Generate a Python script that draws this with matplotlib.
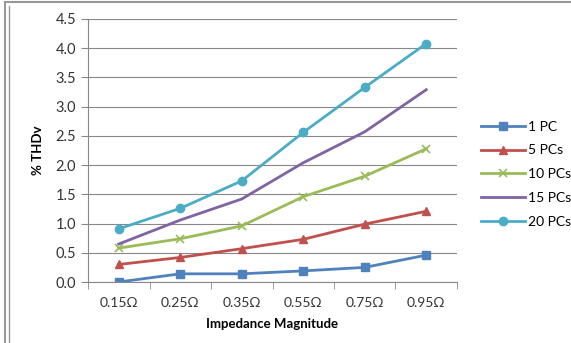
import matplotlib.pyplot as plt
from matplotlib.lines import Line2D
import numpy as np

plt.rcParams['font.family'] = ['Lato', 'DejaVu Sans']

impedance = ['0.15Ω', '0.25Ω', '0.35Ω', '0.55Ω', '0.75Ω', '0.95Ω']
pc1 = [0.00, 0.14, 0.14, 0.19, 0.25, 0.46]
pc5 = [0.30, 0.42, 0.57, 0.73, 0.99, 1.21]
pc10 = [0.58, 0.74, 0.96, 1.46, 1.81, 2.28]
pc15 = [0.65, 1.06, 1.42, 2.04, 2.57, 3.29]
pc20 = [0.91, 1.26, 1.73, 2.56, 3.33, 4.08]

fig = plt.figure(figsize=(5.71, 3.43), dpi=100)
ax = fig.add_axes([88/571, 1-282/343, (457-88)/571, (282-19)/343])

x = np.arange(len(impedance))
ax.plot(x, pc1, color='#4F81BD', lw=2, marker='s', ms=6, label='1 PC')
ax.plot(x, pc5, color='#C0504D', lw=2, marker='^', ms=6, label='5 PCs')
ax.plot(x, pc10, color='#9BBB59', lw=2, marker='x', ms=6, mew=1.2, label='10 PCs')
ax.plot(x, pc15, color='#8064A2', lw=2, label='15 PCs')
ax.plot(x, pc20, color='#4BACC6', lw=2, marker='o', ms=6, label='20 PCs')

ax.set_xlim(-0.5, len(impedance) - 0.5)
ax.set_ylim(0, 4.5)
ax.set_yticks(np.arange(0, 4.51, 0.5))
ax.set_yticklabels([f'{v:.1f}' for v in np.arange(0, 4.51, 0.5)])
ax.set_xticks(x)
ax.set_xticklabels(impedance)
ax.set_xticks(np.arange(-0.5, len(impedance)), minor=True)
ax.tick_params(axis='x', which='major', length=0, pad=11, labelsize=10, colors='#333333')
ax.tick_params(axis='x', which='minor', length=5, color='#888888')
ax.tick_params(axis='y', length=5, color='#888888', labelsize=10.5, colors='#333333')
ax.yaxis.grid(True, color='#888888', lw=0.8)
ax.set_axisbelow(True)
for s in ['top', 'right']:
    ax.spines[s].set_visible(False)
for s in ['left', 'bottom']:
    ax.spines[s].set_color('#888888')

ax.set_xlabel('Impedance Magnitude', fontsize=9.5, fontweight='bold', labelpad=6)
ax.set_ylabel('% THDv', fontsize=9.5, fontweight='bold', labelpad=8)

ax.legend(loc='center left', bbox_to_anchor=(1.03, 0.41), frameon=False,
          fontsize=10, handlelength=3.2, labelspacing=0.85, handletextpad=0.2)

# outer frame lines
fig.add_artist(Line2D([5/571, 5/571], [0, 1-2/343], color='#999999', lw=1.5))
fig.add_artist(Line2D([9/571, 9/571], [0, 1-6/343], color='#999999', lw=1))
fig.add_artist(Line2D([5/571, 1], [1-2/343, 1-2/343], color='#999999', lw=1.5))

fig.savefig('out.png', dpi=100)
